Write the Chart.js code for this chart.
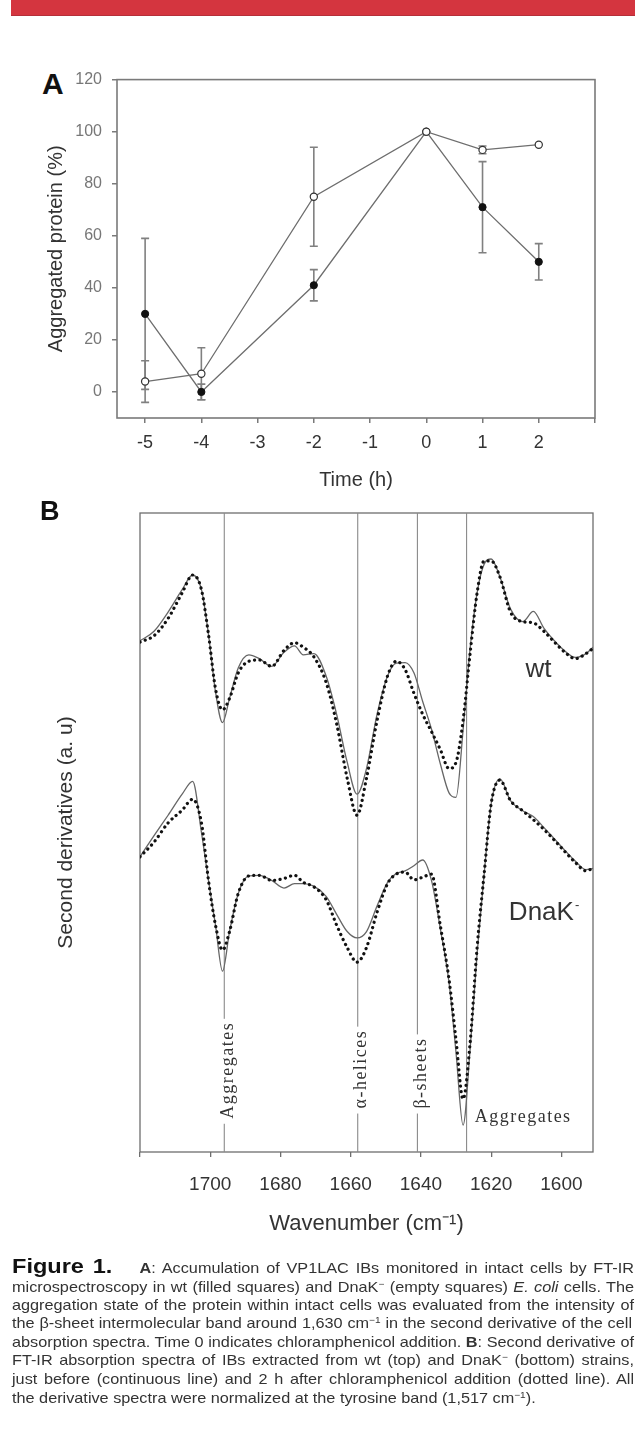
<!DOCTYPE html>
<html>
<head>
<meta charset="utf-8">
<script src="https://cdn.jsdelivr.net/npm/chart.js@4.4.1/dist/chart.umd.min.js"></script>
<style>
  body { margin: 0; background: #fff; }
  #page { position: relative; width: 635px; height: 1456px; overflow: hidden; font-family: "Liberation Sans", Arial, sans-serif; }
  #redbar { position: absolute; left: 11px; top: 0; width: 624px; height: 15px; background: #d4353f; border-bottom: 1px solid #b52f39; }
  canvas { position: absolute; left: 0; }
  .tag { position: absolute; font-weight: bold; color: #111; line-height: 1; }
  .cap { position: absolute; left: 12px; white-space: nowrap; transform-origin: 0 50%; font-size: 14.5px; line-height: 18px; color: #333; }
  .cap sup { font-size: 9px; vertical-align: 5px; line-height: 0; }
  .cap .fig { font-size: 21px; color: #111; }
</style>
</head>
<body>
<div id="page">
  <div id="redbar"></div>
  <div class="tag" style="left:42px; top:69px; font-size:30px;">A</div>
  <canvas id="chartA" width="635" height="440" style="top:60px"></canvas>
  <div class="tag" style="left:40px; top:498px; font-size:27px;">B</div>
  <canvas id="chartB" width="635" height="740" style="top:500px"></canvas>

  <div class="cap" data-w="622" style="top:1257px"><b class="fig">Figure 1.</b>&nbsp;&nbsp;&nbsp;&nbsp;<b>A</b>: Accumulation of VP1LAC IBs monitored in intact cells by FT-IR</div>
  <div class="cap" data-w="622" style="top:1278px">microspectroscopy in wt (filled squares) and DnaK<sup>&minus;</sup> (empty squares) <i>E. coli</i> cells. The</div>
  <div class="cap" data-w="622" style="top:1296px">aggregation state of the protein within intact cells was evaluated from the intensity of</div>
  <div class="cap" data-w="620" style="top:1314px">the &beta;-sheet intermolecular band around 1,630 cm<sup>&minus;1</sup> in the second derivative of the cell</div>
  <div class="cap" data-w="622" style="top:1333px">absorption spectra. Time 0 indicates chloramphenicol addition. <b>B</b>: Second derivative of</div>
  <div class="cap" data-w="622" style="top:1351px">FT-IR absorption spectra of IBs extracted from wt (top) and DnaK<sup>&minus;</sup> (bottom) strains,</div>
  <div class="cap" data-w="622" style="top:1370px">just before (continuous line) and 2 h after chloramphenicol addition (dotted line). All</div>
  <div class="cap last" style="top:1389px">the derivative spectra were normalized at the tyrosine band (1,517 cm<sup>&minus;1</sup>).</div>
</div>

<script>
/* ---------------- Data: panel A ---------------- */
const hours = [-5, -4, -2, 0, 1, 2];
const wtMean = [30, 0, 41, 100, 71, 50];
const wtErr = [29, 3, 6, 0, 17.5, 7];
const dnakMean = [4, 7, 75, 100, 93, 95];
const dnakErr = [8, 10, 19, 0, 1.5, 0];
const hourTicks = [-5, -4, -3, -2, -1, 0, 1, 2, 3];
const pctTicks = [0, 20, 40, 60, 80, 100, 120];

/* ---------------- Data: panel B ---------------- */
const wavenumber = [1720, 1716, 1712, 1708, 1705, 1702.5, 1700.5, 1698.5, 1696.5, 1694.5,
  1692, 1689, 1686, 1682.5, 1679, 1676, 1673.5, 1670.5, 1667, 1664,
  1661, 1658.2, 1655.5, 1652.5, 1649.5, 1647, 1644.5, 1642, 1639.5, 1637,
  1634.5, 1632, 1630, 1628, 1626, 1624, 1622, 1620, 1617.5, 1614.5,
  1611, 1608, 1605, 1602, 1599, 1596, 1593, 1591];
const wtBefore = [8.00, 8.15, 8.45, 8.80, 9.03, 8.80, 8.10, 7.20, 6.72, 7.10,
  7.58, 7.78, 7.72, 7.60, 7.82, 7.92, 7.78, 7.80, 7.45, 6.85,
  6.10, 5.60, 6.00, 6.85, 7.45, 7.65, 7.66, 7.50, 7.05, 6.62,
  6.08, 5.62, 5.55, 6.60, 7.88, 8.75, 9.20, 9.28, 9.00, 8.50,
  8.30, 8.46, 8.20, 8.00, 7.84, 7.74, 7.80, 7.90];
const wtAfter = [7.98, 8.08, 8.35, 8.75, 9.03, 8.80, 8.10, 7.25, 6.92, 7.10,
  7.50, 7.68, 7.70, 7.60, 7.85, 7.97, 7.90, 7.75, 7.35, 6.70,
  5.85, 5.27, 5.85, 6.75, 7.45, 7.68, 7.55, 7.18, 6.85, 6.58,
  6.30, 6.00, 6.10, 6.75, 7.80, 8.75, 9.25, 9.25, 9.00, 8.45,
  8.30, 8.28, 8.15, 7.98, 7.82, 7.72, 7.80, 7.88];
const dnakBefore = [4.62, 4.95, 5.27, 5.60, 5.80, 5.00, 4.25, 3.55, 2.83, 3.45,
  4.05, 4.32, 4.33, 4.25, 4.13, 4.20, 4.20, 4.16, 4.00, 3.72,
  3.45, 3.35, 3.45, 3.85, 4.22, 4.36, 4.40, 4.48, 4.57, 4.25,
  3.50, 2.65, 1.55, 0.42, 1.60, 3.10, 4.35, 5.45, 5.84, 5.50,
  5.34, 5.25, 5.08, 4.90, 4.72, 4.55, 4.42, 4.44];
const dnakAfter = [4.62, 4.85, 5.15, 5.35, 5.52, 5.15, 4.25, 3.55, 3.16, 3.45,
  4.05, 4.32, 4.33, 4.25, 4.28, 4.33, 4.22, 4.15, 3.95, 3.55,
  3.20, 2.97, 3.20, 3.75, 4.20, 4.35, 4.38, 4.26, 4.30, 4.35,
  3.55, 2.70, 1.75, 0.83, 1.70, 3.20, 4.35, 5.45, 5.82, 5.50,
  5.34, 5.20, 5.05, 4.88, 4.70, 4.53, 4.40, 4.44];
const bandWn = [1696, 1658, 1641, 1627];
const bandNames = ['Aggregates', '\u03b1-helices', '\u03b2-sheets', 'Aggregates'];
const wnTicks = [1720, 1700, 1680, 1660, 1640, 1620, 1600];

Chart.defaults.font.family = '"Liberation Sans", Arial, sans-serif';

/* ---------------- Plugins ---------------- */
const frame = {
    id: 'frame',
    beforeDatasetsDraw(chart, args, opts) {
        const a = chart.chartArea;
        const ctx = chart.ctx;
        ctx.save();
        ctx.strokeStyle = opts.color;
        ctx.lineWidth = opts.width;
        ctx.strokeRect(a.left, a.top, a.right - a.left, a.bottom - a.top);
        ctx.restore();
    }
};

const errorBars = {
    id: 'errorBars',
    beforeDatasetsDraw(chart) {
        const { ctx, scales: { x, y } } = chart;
        ctx.save();
        ctx.strokeStyle = '#808080';
        ctx.lineWidth = 1.6;
        chart.data.datasets.forEach(ds => {
            if (!ds.err) return;
            ds.data.forEach((p, i) => {
                const e = ds.err[i];
                if (!e) return;
                const px = x.getPixelForValue(p.x);
                const top = y.getPixelForValue(p.y + e);
                const bot = y.getPixelForValue(p.y - e);
                ctx.beginPath();
                ctx.moveTo(px, top); ctx.lineTo(px, bot);
                ctx.moveTo(px - 4, top); ctx.lineTo(px + 4, top);
                ctx.moveTo(px - 4, bot); ctx.lineTo(px + 4, bot);
                ctx.stroke();
            });
        });
        ctx.restore();
    }
};

const bandText = {
    id: 'bandText',
    afterDatasetsDraw(chart) {
        const { ctx, scales: { x, y } } = chart;
        ctx.save();
        ctx.font = '18px "Liberation Serif", "Times New Roman", serif';
        ctx.letterSpacing = '1.5px';
        ctx.textBaseline = 'middle';
        // rotated labels on the first three band lines
        const starts = [0.52, 0.68, 0.68];
        for (let i = 0; i < 3; i++) {
            const px = x.getPixelForValue(bandWn[i]);
            const py = y.getPixelForValue(starts[i]);
            const tw = ctx.measureText(bandNames[i]).width;
            ctx.save();
            ctx.translate(px, py);
            ctx.rotate(-Math.PI / 2);
            ctx.fillStyle = '#fff';
            ctx.fillRect(-5, -10, tw + 8, 24);
            ctx.fillStyle = '#333';
            ctx.fillText(bandNames[i], 0, 4);
            ctx.restore();
        }
        // horizontal label next to the last band
        ctx.fillStyle = '#333';
        ctx.textAlign = 'left';
        ctx.fillText(bandNames[3], x.getPixelForValue(1624.7), y.getPixelForValue(0.55));

        // strain labels
        ctx.letterSpacing = '0px';
        ctx.font = '26px "Liberation Sans", Arial, sans-serif';
        ctx.textAlign = 'center';
        ctx.fillText('wt', x.getPixelForValue(1606.5), y.getPixelForValue(7.54));
        const dx = x.getPixelForValue(1605.7), dy = y.getPixelForValue(3.74);
        const dw = ctx.measureText('DnaK').width;
        ctx.fillText('DnaK', dx, dy);
        ctx.font = '13px "Liberation Sans", Arial, sans-serif';
        ctx.textAlign = 'left';
        ctx.fillText('-', dx + dw / 2 + 1, dy - 8);
        ctx.restore();
    }
};

/* ---------------- Panel A ---------------- */
new Chart(document.getElementById('chartA'), {
    type: 'scatter',
    data: {
        datasets: [
            {
                label: 'DnaK-',
                data: hours.map((h, i) => ({ x: h, y: dnakMean[i] })),
                err: dnakErr,
                showLine: true,
                borderColor: '#6e6e6e',
                borderWidth: 1.3,
                pointRadius: 3.6,
                pointBackgroundColor: '#fff',
                pointBorderColor: '#333',
                pointBorderWidth: 1.2
            },
            {
                label: 'wt',
                data: hours.map((h, i) => ({ x: h, y: wtMean[i] })),
                err: wtErr,
                showLine: true,
                borderColor: '#6e6e6e',
                borderWidth: 1.3,
                pointRadius: 3.6,
                pointBackgroundColor: '#111',
                pointBorderColor: '#111',
                pointBorderWidth: 1
            }
        ]
    },
    options: {
        responsive: false,
        animation: false,
        layout: { padding: { left: 40, right: 40, top: 19, bottom: 0 } },
        plugins: {
            legend: { display: false },
            tooltip: { enabled: false },
            frame: { color: '#7a7a7a', width: 1.6 }
        },
        scales: {
            x: {
                type: 'linear',
                min: -5.5,
                max: 3,
                afterBuildTicks: s => { s.ticks = hourTicks.map(v => ({ value: v })); },
                afterFit: s => { s.height = 82; },
                grid: { drawOnChartArea: false, drawTicks: true, tickLength: 5, color: '#7a7a7a', lineWidth: 1.5 },
                border: { display: false },
                ticks: {
                    autoSkip: false, maxRotation: 0, padding: 9, color: '#333',
                    font: { size: 18 },
                    callback: v => v === 3 ? '' : String(v)
                },
                title: { display: true, text: 'Time (h)', color: '#333', font: { size: 20 }, padding: { top: 0, bottom: 8 } }
            },
            y: {
                min: -10,
                max: 120,
                afterBuildTicks: s => { s.ticks = pctTicks.map(v => ({ value: v })); },
                afterFit: s => { s.width = 77; },
                grid: { drawOnChartArea: false, drawTicks: true, tickLength: 5, color: '#7a7a7a', lineWidth: 1.5 },
                border: { display: false },
                ticks: { autoSkip: false, padding: 10, color: '#777', font: { size: 16 } },
                title: { display: true, text: 'Aggregated protein (%)', color: '#333', font: { size: 20 }, padding: { top: 4, bottom: 4 } }
            }
        }
    },
    plugins: [frame, errorBars]
});

/* ---------------- Panel B ---------------- */
function series(values) {
    return wavenumber.map((w, i) => ({ x: w, y: values[i] }));
}

const dotted = {
    showLine: true, pointRadius: 0, borderColor: '#111', borderWidth: 3.2,
    borderDash: [0.1, 5.4], borderCapStyle: 'round', cubicInterpolationMode: 'monotone'
};
const solid = {
    showLine: true, pointRadius: 0, borderColor: '#666', borderWidth: 1.3,
    cubicInterpolationMode: 'monotone'
};

const bandSets = bandWn.map(w => ({
    data: [{ x: w, y: 0 }, { x: w, y: 10 }],
    showLine: true, pointRadius: 0, borderColor: '#8a8a8a', borderWidth: 1.1
}));

new Chart(document.getElementById('chartB'), {
    type: 'scatter',
    data: {
        datasets: [
            { ...dotted, label: 'wt after', data: series(wtAfter) },
            { ...dotted, label: 'DnaK after', data: series(dnakAfter) },
            { ...solid, label: 'wt before', data: series(wtBefore) },
            { ...solid, label: 'DnaK before', data: series(dnakBefore) },
            ...bandSets
        ]
    },
    options: {
        responsive: false,
        animation: false,
        layout: { padding: { left: 50, right: 42, top: 13, bottom: 0 } },
        plugins: {
            legend: { display: false },
            tooltip: { enabled: false },
            frame: { color: '#6e6e6e', width: 1.3 }
        },
        scales: {
            x: {
                type: 'linear',
                reverse: true,
                min: 1591,
                max: 1720,
                afterBuildTicks: s => { s.ticks = wnTicks.map(v => ({ value: v })); },
                afterFit: s => { s.height = 88; },
                grid: { drawOnChartArea: false, drawTicks: true, tickLength: 5, color: '#6e6e6e', lineWidth: 1.3 },
                border: { display: false },
                ticks: {
                    autoSkip: false, maxRotation: 0, padding: 16, color: '#333',
                    font: { size: 19 },
                    callback: v => v === 1720 ? '' : String(v)
                },
                title: { display: true, text: 'Wavenumber (cm\u207b\u00b9)', color: '#333', font: { size: 22 }, padding: { top: 0, bottom: 3 } }
            },
            y: {
                min: 0,
                max: 10,
                afterFit: s => { s.width = 90; },
                grid: { display: false },
                border: { display: false },
                ticks: { display: false },
                title: { display: true, text: 'Second derivatives (a. u)', color: '#333', font: { size: 21 }, padding: { top: 4, bottom: 4 } }
            }
        }
    },
    plugins: [frame, bandText]
});

/* ---------------- Caption: condensed, justified ---------------- */
const capLines = [...document.querySelectorAll('.cap')];
const fullLines = capLines.filter(el => el.dataset.w);
// one common squeeze so that the longest full line just fits
const squeeze = Math.min(...fullLines.map(el => Number(el.dataset.w) / el.scrollWidth));
capLines.forEach(el => {
    el.style.transform = `scaleX(${squeeze})`;
    if (el.dataset.w) {
        el.style.width = (Number(el.dataset.w) / squeeze) + 'px';
        el.style.textAlign = 'justify';
        el.style.textAlignLast = 'justify';
    }
});
</script>
</body>
</html>
